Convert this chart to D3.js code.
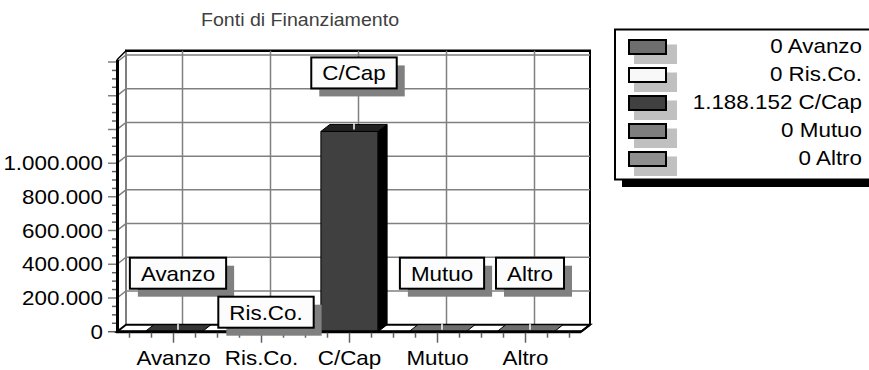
<!DOCTYPE html>
<html>
<head>
<meta charset="utf-8">
<script src="https://cdn.jsdelivr.net/npm/d3@7"></script>
<style>
  html, body { margin: 0; padding: 0; background: #fff; }
  svg { display: block; }
  text { font-family: "Liberation Sans", Arial, sans-serif; }
</style>
</head>
<body>
<svg id="chart" width="869" height="370"></svg>
<script>
// Funding sources (Fonti di Finanziamento)
const categories = ["Avanzo", "Ris.Co.", "C/Cap", "Mutuo", "Altro"];
const values = [0, 0, 1188152, 0, 0];
const yTickValues = [0, 200000, 400000, 600000, 800000, 1000000, 1200000, 1400000, 1600000];
const yTickLabels = ["0", "200.000", "400.000", "600.000", "800.000", "1.000.000", "", "", ""];
const legendValueLabels = ["0", "0", "1.188.152", "0", "0"];
const title = "Fonti di Finanziamento";

// styling
const frontColors = ["#6e6e6e", "#f8f8f8", "#404040", "#7e7e7e", "#8e8e8e"];
const topColors   = ["#363636", "#ffffff", "#222222", "#6e6e6e", "#6e6e6e"];
const FONT = 20, SX = 1.12;
const axisMax = 1625000, minorStep = 50000;
const DX = 9, DY = -7;

const svg = d3.select("#chart");

const x = d3.scaleBand().domain(categories).range([129.5, 569.5]).padding(0);
const y = d3.scaleLinear().domain([0, 1600000]).range([331.7, 62]);
const barW = x.bandwidth() * 0.65;
const floorL = 117, floorR = 581;
const y0 = y(0), yTop = y(axisMax);

// text helper with slight horizontal stretch
function label(g, str, px, py, anchor, opts = {}) {
  return g.append("g").attr("transform", `translate(${px},${py}) scale(${SX},1)`)
    .append("text")
    .attr("text-anchor", anchor)
    .attr("font-size", opts.size || FONT)
    .attr("fill", opts.fill || "#000")
    .text(str);
}

// ---- walls ----
const walls = svg.append("g");
walls.append("path")
  .attr("d", `M${floorL},${y0} L${floorL},${yTop} L${floorL + DX},${yTop + DY} L${floorL + DX},${y0 + DY} Z`)
  .attr("fill", "#fff");
walls.append("rect")
  .attr("x", floorL + DX).attr("y", yTop + DY)
  .attr("width", floorR - floorL).attr("height", y0 - yTop)
  .attr("fill", "#fff").attr("stroke", "#000").attr("stroke-width", 1);
walls.append("line")
  .attr("x1", floorL + DX - 1).attr("x2", floorR + DX + 1)
  .attr("y1", yTop + DY).attr("y2", yTop + DY)
  .attr("stroke", "#000").attr("stroke-width", 2.5);
walls.append("line")
  .attr("x1", floorR + DX).attr("x2", floorR + DX)
  .attr("y1", yTop + DY).attr("y2", y0 + DY)
  .attr("stroke", "#000").attr("stroke-width", 2);

// ---- gridlines ----
const grid = svg.append("g").attr("stroke", "#808080").attr("stroke-width", 1.5).attr("fill", "none");
yTickValues.filter(v => v > 0).forEach(v => {
  const yy = y(v);
  grid.append("path")
    .attr("d", `M${floorL - 9},${yy} L${floorL},${yy} L${floorL + DX},${yy + DY} L${floorR + DX},${yy + DY}`);
});
categories.forEach(c => {
  const cx = x(c) + x.bandwidth() / 2 + DX;
  grid.append("line").attr("x1", cx).attr("x2", cx).attr("y1", yTop + DY).attr("y2", y0 + DY);
});
// minor ticks on the value axis
const minor = svg.append("g").attr("stroke", "#606060").attr("stroke-width", 1.5);
d3.range(minorStep, 1600000 + 1, minorStep).filter(v => !yTickValues.includes(v)).forEach(v => {
  minor.append("line").attr("x1", floorL - 5).attr("x2", floorL).attr("y1", y(v)).attr("y2", y(v));
});
minor.append("line").attr("x1", floorL - 9).attr("x2", floorL).attr("y1", y0).attr("y2", y0);
svg.append("line")
  .attr("x1", floorL).attr("y1", yTop + 2).attr("x2", floorL + DX).attr("y2", yTop + DY)
  .attr("stroke", "#000").attr("stroke-width", 1.5);

// ---- floor ----
svg.append("path")
  .attr("d", `M${floorL},${y0} L${floorR},${y0} L${floorR + DX},${y0 + DY} L${floorL + DX},${y0 + DY} Z`)
  .attr("fill", "#fff").attr("stroke", "#000").attr("stroke-width", 2);

// ---- bars ----
const bars = svg.append("g").attr("stroke", "#000").attr("stroke-width", 1).attr("stroke-linejoin", "round");
categories.forEach((c, i) => {
  const xl = x(c) + (x.bandwidth() - barW) / 2, xr = xl + barW;
  const yt = y(values[i]);
  if (y0 - yt > 0.5) {
    bars.append("rect").attr("x", xl).attr("y", yt).attr("width", barW).attr("height", y0 - yt)
      .attr("fill", frontColors[i]);
    bars.append("path")
      .attr("d", `M${xr},${yt} L${xr + DX},${yt + DY} L${xr + DX},${y0 + DY} L${xr},${y0} Z`)
      .attr("fill", "#000");
  }
  bars.append("path")
    .attr("d", `M${xl},${yt} L${xr},${yt} L${xr + DX},${yt + DY} L${xl + DX},${yt + DY} Z`)
    .attr("fill", topColors[i]);
  const lx = x(c) + x.bandwidth() / 2 + DX / 2;
  svg.append("line").attr("x1", lx).attr("x2", lx).attr("y1", yt - 2).attr("y2", yt + DY - 1)
    .attr("stroke", "#fff").attr("stroke-width", 1.5);
});

// front edge of floor and value axis (thick)
svg.append("line").attr("x1", floorL - 1).attr("x2", floorR).attr("y1", y0).attr("y2", y0)
  .attr("stroke", "#000").attr("stroke-width", 3);
svg.append("line").attr("x1", floorL + 0.5).attr("x2", floorL + 0.5).attr("y1", y0).attr("y2", yTop + 2)
  .attr("stroke", "#000").attr("stroke-width", 3);
svg.append("line").attr("x1", floorR).attr("y1", y0).attr("x2", floorR + DX).attr("y2", y0 + DY)
  .attr("stroke", "#000").attr("stroke-width", 2);

// category axis ticks
const bt = svg.append("g").attr("stroke", "#606060").attr("stroke-width", 1.5);
const q = x.bandwidth() / 4;
d3.range(0, categories.length * 4 + 1).forEach(k => {
  const xx = x.range()[0] + k * q;
  const major = k % 4 === 2;
  bt.append("line").attr("x1", xx).attr("x2", xx).attr("y1", y0 + 1).attr("y2", y0 + (major ? 11 : 6));
});

// ---- axis labels ----
const axisText = svg.append("g");
yTickValues.forEach((v, i) => {
  if (yTickLabels[i]) label(axisText, yTickLabels[i], 103, y(v) + 7, "end");
});
categories.forEach(c => {
  label(axisText, c, x(c) + x.bandwidth() / 2, 365, "middle");
});

// ---- data labels (pushed down when they would overlap a placed one) ----
const dl = svg.append("g");
const placed = [];
const overlaps = (a, b) => a.x0 < b.x1 && b.x0 < a.x1 && a.y0 < b.y1 && b.y0 < a.y1;
categories.forEach((c, i) => {
  const cx = x(c) + x.bandwidth() / 2 + DX / 2;
  const tmp = label(dl, c, 0, 0, "middle");
  const w = tmp.node().getBBox().width * SX;
  tmp.node().parentNode.remove();
  const bw = w + 22, bh = 31;
  const boxAt = bottom => ({ x0: cx - bw / 2, x1: cx + bw / 2 + 8, y0: bottom - bh, y1: bottom + 8 });
  let bottom = y(values[i]) - 43;
  if (placed.some(p => overlaps(p, boxAt(bottom)))) bottom = y(values[i]) - 4;
  placed.push(boxAt(bottom));
  const bx = cx - bw / 2, by = bottom - bh;
  dl.append("rect").attr("x", bx + 8).attr("y", by + 8).attr("width", bw).attr("height", bh).attr("fill", "#808080");
  dl.append("rect").attr("x", bx).attr("y", by).attr("width", bw).attr("height", bh)
    .attr("fill", "#fcfcfc").attr("stroke", "#000").attr("stroke-width", 2);
  label(dl, c, cx, by + 23, "middle");
});

// ---- title ----
label(svg, title, 300, 26, "middle", { fill: "#404040", size: 17.5 });

// ---- legend ----
const lg = svg.append("g");
lg.append("rect").attr("x", 622).attr("y", 179).attr("width", 270).attr("height", 8).attr("fill", "#000");
lg.append("rect").attr("x", 615).attr("y", 29.5).attr("width", 270).attr("height", 150)
  .attr("fill", "#fff").attr("stroke", "#000").attr("stroke-width", 2);
categories.forEach((c, i) => {
  const ry = 40 + i * 28;
  lg.append("rect").attr("x", 634).attr("y", ry + 4.5).attr("width", 43).attr("height", 19.5).attr("fill", "#c0c0c0");
  lg.append("rect").attr("x", 629).attr("y", ry).attr("width", 37).attr("height", 14)
    .attr("fill", frontColors[i]).attr("stroke", "#000").attr("stroke-width", 2);
  label(lg, `${legendValueLabels[i]} ${c}`, 862, ry + 12.5, "end");
});
</script>
</body>
</html>
